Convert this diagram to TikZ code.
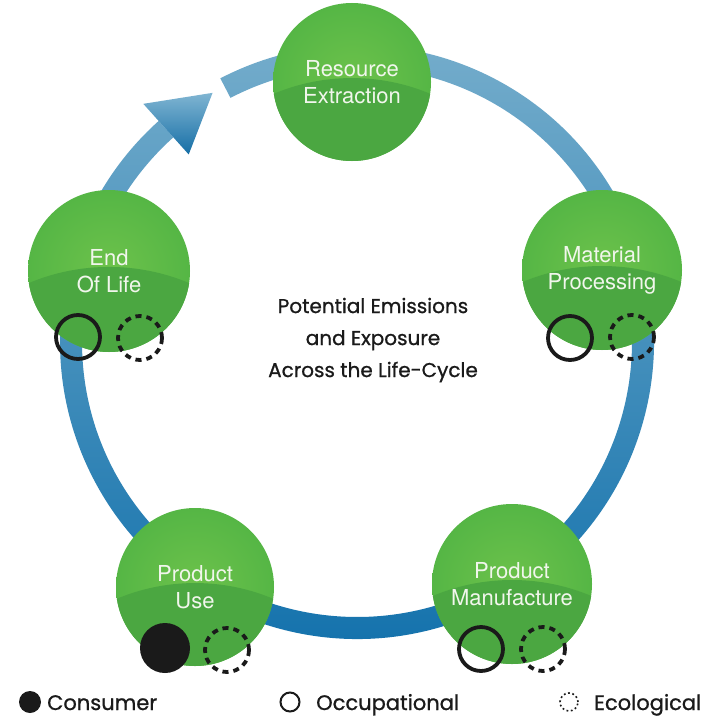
\documentclass[tikz,border=0pt]{standalone}
\usepackage{fontspec}
\setmainfont{TeX Gyre Heros}
\newfontfamily\lcpop[FakeBold=0.9]{Poppins}
\usetikzlibrary{calc}
\definecolor{ringlight}{HTML}{7AB0CD}
\definecolor{ringdark}{HTML}{0F6FAB}
\definecolor{arrowlight}{HTML}{80B5D2}
\definecolor{arrowdark}{HTML}{156EA6}
\definecolor{gin}{HTML}{6DC24B}
\definecolor{gout}{HTML}{55B645}
\definecolor{gdark}{HTML}{4BA741}
\definecolor{btext}{HTML}{F1F6EC}
\definecolor{ink}{HTML}{1A1A1A}
\tikzset{
  stageball/.style={circle, inner sep=0pt, minimum size=#1, inner color=gin, outer color=gout,
    text=btext, align=center, font=\fontsize{22}{27}\selectfont,
    path picture={\fill[gdark] ([yshift=-1.25*#1]path picture bounding box.center) circle[radius=1.275*#1];}},
  occmark/.style={circle, draw=ink, line width=3.8pt, minimum size=44pt, inner sep=0pt},
  ecomark/.style={circle, draw=ink, line width=3.8pt, minimum size=44pt, inner sep=0pt, dash pattern=on 6pt off 5pt},
  conmark/.style={circle, fill=ink, minimum size=50pt, inner sep=0pt},
  legtext/.style={anchor=base west, inner sep=0pt, text=ink, font=\lcpop\fontsize{21}{21}\selectfont},
}
\begin{document}
\begin{tikzpicture}[x=1pt,y=-1pt]
\useasboundingbox (0,0) rectangle (704,717);
\fill[white] (0,0) rectangle (704,717);
% ring with arrow
\begin{scope}[shift={(357,342)}]
\shade[top color=ringlight, bottom color=ringdark]
  (-117.4:297) arc[start angle=-117.4, end angle=228.1, radius=297]
  -- (228.1:275) arc[start angle=228.1, end angle=-117.4, radius=275] -- cycle;
\shade[top color=arrowlight, bottom color=arrowdark]
  (228.1:252) coordinate (ab1) -- (228.1:320) coordinate (ab2) -- (239.9:288) coordinate (atip) -- cycle;
\end{scope}
% stages
\node[stageball=158pt] (res) at (352,82) {Resource\\Extraction};
\node[stageball=160pt] (mat) at (602,270) {Material\\Processing};
\node[stageball=160pt] (man) at (512,584) {Product\\Manufacture};
\node[stageball=158pt] (use) at (195,587) {Product\\Use};
\node[stageball=162pt] (eol) at (109,271) {End\\Of Life};
% exposure markers
\node[occmark] (eolOcc) at (78,337) {};
\node[ecomark] (eolEco) at (140,338) {};
\node[occmark] (matOcc) at (570,338) {};
\node[ecomark] (matEco) at (632,337) {};
\node[conmark] (useCon) at (165,648) {};
\node[ecomark] (useEco) at (227,650) {};
\node[occmark] (manOcc) at (481,649) {};
\node[ecomark] (manEco) at (543,649) {};
% centre title
\node[align=center, text=ink, font=\lcpop\fontsize{20}{32}\selectfont] (title) at (373,340)
  {Potential Emissions\\and Exposure\\Across the Life-Cycle};
% legend
\node[circle, fill=ink, minimum size=22pt, inner sep=0pt] (legCon) at (30,702) {};
\node[legtext] (legConT) at (47,710) {Consumer};
\node[circle, draw=ink, line width=2pt, minimum size=19pt, inner sep=0pt] (legOcc) at (290,702) {};
\node[legtext] (legOccT) at (316,710) {Occupational};
\node[circle, draw=ink, line width=1.6pt, minimum size=18pt, inner sep=0pt, dash pattern=on 1.8pt off 2.6pt] (legEco) at (569,702) {};
\node[legtext] (legEcoT) at (594,710) {Ecological};
\end{tikzpicture}
\end{document}
